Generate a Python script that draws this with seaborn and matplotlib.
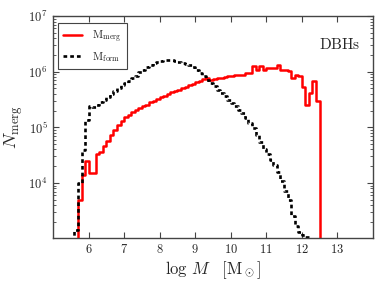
import numpy as np
import pandas as pd
import seaborn as sns
import matplotlib
matplotlib.use('Agg')
import matplotlib.pyplot as plt
from matplotlib.ticker import LogLocator, NullFormatter, FixedLocator

# log10 of the counts per 0.1 dex bin
merg_start = 5.7
merg_log = [3.70, 4.15, 4.39, 4.18, 4.18, 4.52, 4.55, 4.66, 4.76, 4.86,
            4.95, 5.04, 5.12, 5.18, 5.23, 5.28, 5.32, 5.35, 5.38, 5.41,
            5.45, 5.48, 5.51, 5.54, 5.57, 5.60, 5.63, 5.65, 5.68, 5.71,
            5.73, 5.76, 5.78, 5.81, 5.84, 5.87, 5.89, 5.86, 5.87, 5.88,
            5.89, 5.91, 5.92, 5.92, 5.94, 5.95, 5.95, 5.97, 5.98, 6.10,
            6.04, 6.10, 6.04, 6.07, 6.07, 6.07, 6.13, 6.04, 6.04, 6.01,
            5.89, 5.95, 5.93, 5.72, 5.41, 5.62, 5.83, 5.47]

form_start = 5.6
form_log = [3.16, 4.00, 4.60, 5.14, 5.38, 5.36, 5.40, 5.45, 5.50, 5.55,
            5.60, 5.66, 5.71, 5.76, 5.80, 5.84, 5.88, 5.93, 5.99, 6.04,
            6.08, 6.12, 6.15, 6.17, 6.19, 6.21, 6.22, 6.22, 6.20, 6.18,
            6.16, 6.14, 6.12, 6.08, 6.04, 5.98, 5.92, 5.86, 5.80, 5.74,
            5.68, 5.62, 5.57, 5.50, 5.44, 5.38, 5.31, 5.25, 5.17, 5.08,
            4.98, 4.86, 4.74, 4.62, 4.52, 4.42, 4.32, 4.20, 4.04, 3.86,
            3.70, 3.40, 3.22, 3.12, 3.06, 3.02]

labels = [r'$\mathrm{M_{merg}}$', r'$\mathrm{M_{form}}$']
xticks = [6, 7, 8, 9, 10, 11, 12, 13]
yticks = [1e4, 1e5, 1e6, 1e7]

sns.set_style('ticks')
plt.rcParams['mathtext.fontset'] = 'cm'
plt.rcParams['font.family'] = ['DejaVu Serif']

width = 0.1


def hist_frame(start, logs):
    # pad with one empty bin on each side so the step falls to the axis
    n = len(logs)
    lefts = np.round(start + width * np.arange(-1, n + 1), 2)
    counts = np.concatenate([[0.0], 10 ** np.array(logs), [0.0]])
    df = pd.DataFrame({'logM': lefts + width / 2, 'N': counts})
    edges = [float(v) for v in np.append(lefts, lefts[-1] + width)]
    return df, edges


fig, ax = plt.subplots(figsize=(3.82, 2.88), dpi=100)
fig.subplots_adjust(left=0.139, right=0.976, bottom=0.174, top=0.944)

df_m, e_m = hist_frame(merg_start, merg_log)
df_f, e_f = hist_frame(form_start, form_log)

sns.histplot(data=df_m, x='logM', weights='N', bins=e_m, element='step',
             fill=False, color='red', lw=1.8, ax=ax)
sns.histplot(data=df_f, x='logM', weights='N', bins=e_f, element='step',
             fill=False, color='black', lw=1.9, ls=(0, (1.4, 1.15)), ax=ax)

ax.set_yscale('log')
ax.set_xlim(5, 14)
ax.set_ylim(1.03e3, 1e7)

ax.xaxis.set_major_locator(FixedLocator(xticks))
ax.set_xticklabels([f'${t}$' for t in xticks], fontsize=9)
ax.yaxis.set_major_locator(FixedLocator(yticks))
ax.set_yticklabels([r'$10^{%d}$' % int(np.log10(t)) for t in yticks], fontsize=9)
ax.yaxis.set_minor_locator(LogLocator(base=10, subs=np.arange(2, 10), numticks=20))
ax.yaxis.set_minor_formatter(NullFormatter())

ax.tick_params(which='both', direction='in', top=True, right=True, color='#444444')
ax.tick_params(which='major', length=4, width=0.8, pad=4)
ax.tick_params(which='minor', length=2, width=0.6)
for s in ax.spines.values():
    s.set_color('#444444')
    s.set_linewidth(1.0)

ax.set_xlabel(r'$\mathrm{log}\ M\ \ \ [\mathrm{M}_\odot]$', fontsize=12, labelpad=2)
ax.set_ylabel(r'$N_{\mathrm{merg}}$', fontsize=13, labelpad=2)

ax.text(0.96, 0.87, r'$\mathrm{DBHs}$', transform=ax.transAxes,
        ha='right', va='center', fontsize=11)

leg = ax.legend(handles=ax.lines[:2], labels=labels, loc='upper left',
                fontsize=8, fancybox=False, framealpha=1, edgecolor='#444444',
                handlelength=1.7, handletextpad=0.9, borderpad=0.45,
                labelspacing=0.45, borderaxespad=0,
                bbox_to_anchor=(0.016, 0.968))
leg.get_frame().set_linewidth(0.8)

fig.savefig('out.png', dpi=100)
